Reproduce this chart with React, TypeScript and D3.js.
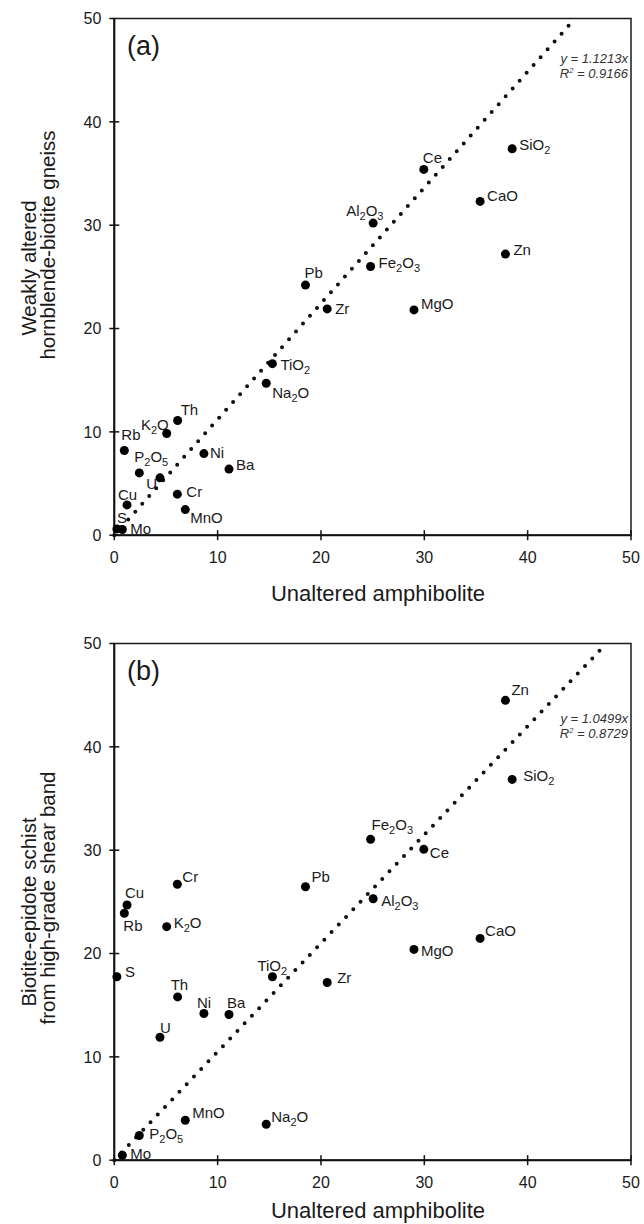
import * as d3 from "d3";

// element oxides / trace elements plotted in both panels
const elements = [
  "SiO2", "TiO2", "Al2O3", "Fe2O3", "MnO", "MgO", "CaO", "Na2O", "K2O", "P2O5",
  "Ba", "Ce", "Cr", "Cu", "Mo", "Ni", "Pb", "Rb", "S", "Th", "U", "Zn", "Zr",
];

// x: unaltered amphibolite
const unaltered = [
  38.5, 15.3, 25.05, 24.8, 6.87, 29.0, 35.4, 14.7, 5.07, 2.42,
  11.1, 29.95, 6.1, 1.23, 0.78, 8.67, 18.5, 0.97, 0.25, 6.13, 4.42, 37.85, 20.6,
];

// y (a): weakly altered hornblende-biotite gneiss
const weaklyAltered = [
  37.4, 16.6, 30.2, 26.0, 2.48, 21.8, 32.3, 14.7, 9.84, 6.03,
  6.4, 35.4, 3.97, 2.93, 0.55, 7.9, 24.2, 8.2, 0.61, 11.1, 5.55, 27.2, 21.9,
];

// y (b): biotite-epidote schist from high-grade shear band
const schist = [
  36.85, 17.75, 25.3, 31.05, 3.87, 20.4, 21.46, 3.48, 22.6, 2.39,
  14.1, 30.08, 26.7, 24.7, 0.48, 14.2, 26.46, 23.9, 17.75, 15.8, 11.9, 44.5, 17.2,
];

const tickValues = [0, 10, 20, 30, 40, 50];
const slopeA = 1.1213;
const slopeB = 1.0499;
const eqA = ["y = 1.1213x", "0.9166"];
const eqB = ["y = 1.0499x", "0.8729"];

// label placement relative to the marker: [dx, dy, anchor]
type LP = [number, number, string?];
const labelsA: Record<string, LP> = {
  Rb: [-3, -10], K2O: [2, -4, "end"], Th: [3, -5], Ni: [6, 4], Ba: [7, 1],
  P2O5: [-5, -11], U: [-3, 11, "end"], Cr: [9, 3], MnO: [5, 13], Cu: [-9, -5],
  S: [0, -6], Mo: [8, 4], SiO2: [7, 1], Ce: [-1, -6], CaO: [7, 0],
  Al2O3: [-27, -7], Zn: [8, 1], Fe2O3: [8, 1], Pb: [-1, -7], Zr: [8, 5],
  MgO: [7, -1], TiO2: [8, 6], Na2O: [6, 15],
};
const labelsB: Record<string, LP> = {
  Cr: [5, -2], Cu: [-2, -7], Rb: [-1, 18], K2O: [7, 1], S: [8, 0],
  TiO2: [-15, -6], Th: [-7, -7], Ni: [-7, -5], Ba: [-2, -6], U: [0, -4],
  Zr: [10, 1], MnO: [7, -2], Na2O: [5, -2], P2O5: [10, 3], Mo: [8, 4],
  Zn: [6, -5], SiO2: [11, 2], Fe2O3: [1, -9], Ce: [6, 9], Pb: [6, -5],
  Al2O3: [8, 7], MgO: [7, 7], CaO: [5, -2],
};

const FONT = "'Liberation Sans', Arial, Helvetica, sans-serif";

function Chem({ name }: { name: string }) {
  // digits become subscripts
  const parts = name.match(/\d+|\D+/g) || [];
  let shifted = false;
  return (
    <>
      {parts.map((p, i) => {
        const isSub = /\d/.test(p);
        const dy = isSub ? 4 : shifted ? -4 : 0;
        shifted = isSub;
        return (
          <tspan key={i} dy={dy || undefined} fontSize={isSub ? 11 : undefined}>
            {p}
          </tspan>
        );
      })}
    </>
  );
}

function Panel({
  top, ys, labels, slope, letter, eq, eqY, yTitle, titleCenters, xTitleGap,
}: {
  top: number; ys: number[]; labels: Record<string, LP>; slope: number;
  letter: string; eq: string[]; eqY: number; yTitle: string[]; titleCenters: number[];
  xTitleGap: number;
}) {
  const left = 114.3, right = 631, size = right - left;
  const bottom = top + size;
  const x = d3.scaleLinear().domain([0, 50]).range([left, right]);
  const y = d3.scaleLinear().domain([0, 50]).range([bottom, top]);
  const fit = d3.line<number>().x((d) => x(d)).y((d) => y(d * slope));

  return (
    <g fontFamily={FONT} fill="#1a1a1a">
      {/* frame */}
      <rect x={left} y={top} width={size} height={size} fill="none" stroke="#1a1a1a" strokeWidth={1.5} />
      <line x1={left} x2={left} y1={top} y2={bottom} stroke="#111" strokeWidth={2} />
      <line x1={left} x2={right} y1={bottom} y2={bottom} stroke="#111" strokeWidth={2} />
      {tickValues.map((t) => (
        <g key={"y" + t}>
          <line x1={left - 5} x2={t === 50 ? left : left + 5} y1={y(t)} y2={y(t)} stroke="#111" strokeWidth={1.5} />
          <text x={left - 13} y={y(t)} dy="0.36em" textAnchor="end" fontSize={16}>{t}</text>
        </g>
      ))}
      {tickValues.map((t) => (
        <g key={"x" + t}>
          <line x1={x(t)} x2={x(t)} y1={bottom - 5} y2={bottom + 5} stroke="#111" strokeWidth={1.5} />
          <text x={x(t)} y={bottom + 28} textAnchor="middle" fontSize={16}>{t}</text>
        </g>
      ))}
      <text x={378} y={bottom + xTitleGap} textAnchor="middle" fontSize={22}>
        Unaltered amphibolite
      </text>
      {yTitle.map((t, i) => (
        <text key={t} transform={`translate(${36 + i * 19},${titleCenters[i]}) rotate(-90)`} textAnchor="middle" fontSize={20.5}>
          {t}
        </text>
      ))}
      <text x={127} y={top + 36} fontSize={27}>{letter}</text>

      {/* trend line */}
      <path d={fit([0, 50 / slope]) || ""} fill="none" stroke="#111" strokeWidth={4}
        strokeLinecap="round" strokeDasharray="0 10.5" />
      <text x={628} y={eqY} textAnchor="end" fontSize={13} fontStyle="italic" fill="#333">{eq[0]}</text>
      <text x={628} y={eqY + 15} textAnchor="end" fontSize={13} fontStyle="italic" fill="#333">
        R<tspan dy={-5} fontSize={7.5}>2</tspan><tspan dy={5}>{" = " + eq[1]}</tspan>
      </text>

      {/* points */}
      {elements.map((el, i) => {
        const cx = x(unaltered[i]);
        const cy = y(ys[i]);
        const [dx, dy, anchor] = labels[el];
        return (
          <g key={el}>
            <circle cx={cx} cy={cy} r={4.5} fill="#000" />
            <text x={cx + dx} y={cy + dy} fontSize={15} textAnchor={anchor || "start"}>
              <Chem name={el} />
            </text>
          </g>
        );
      })}
    </g>
  );
}

export default function App() {
  return (
    <svg width={644} height={1224} style={{ position: "absolute", left: 0, top: 0, background: "#fff" }}>
      <Panel top={18.5} ys={weaklyAltered} labels={labelsA} slope={slopeA} letter="(a)" eq={eqA} eqY={63}
        xTitleGap={66}
        yTitle={["Weakly altered", "hornblende-biotite gneiss"]} titleCenters={[268, 245]} />
      <Panel top={643.5} ys={schist} labels={labelsB} slope={slopeB} letter="(b)" eq={eqB} eqY={723}
        xTitleGap={58}
        yTitle={["Biotite-epidote schist", "from high-grade shear band"]} titleCenters={[912, 898]} />
    </svg>
  );
}
